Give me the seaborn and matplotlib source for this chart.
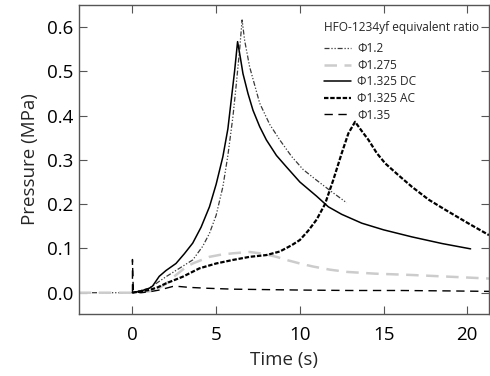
import matplotlib
matplotlib.use("Agg")
import matplotlib.pyplot as plt
import seaborn as sns
import pandas as pd

# Data (time in s, pressure in MPa)
phi12_t = [-3.2, 0, 1.0, 2.0, 2.8, 3.6, 4.2, 4.6, 5.0, 5.4, 5.7, 6.0, 6.2, 6.4, 6.55,
           6.7, 7.0, 7.6, 8.2, 8.8, 9.5, 10.2, 11.0, 11.9, 12.8]
phi12_p = [0, 0, 0.01, 0.036, 0.055, 0.074, 0.105, 0.134, 0.175, 0.239, 0.31, 0.397, 0.47, 0.548, 0.616,
           0.57, 0.51, 0.428, 0.38, 0.345, 0.308, 0.278, 0.254, 0.228, 0.203]

phi1275_t = [-3.2, 0, 1.0, 1.5, 2.0, 2.6, 3.2, 3.6, 4.2, 4.6, 5.3, 6.0, 7.0, 7.8, 8.6, 9.3,
             10.0, 10.8, 11.8, 12.8, 14.5, 16.7, 19.0, 21.3]
phi1275_p = [0, 0, 0.003, 0.008, 0.02, 0.04, 0.058, 0.066, 0.075, 0.081, 0.086, 0.089, 0.092, 0.088, 0.081, 0.073,
             0.066, 0.059, 0.052, 0.047, 0.043, 0.04, 0.036, 0.032]

dc_t = [0, 0.6, 1.0, 1.2, 1.6, 2.0, 2.6, 3.1, 3.6, 4.1, 4.6, 5.0, 5.4, 5.7, 5.9, 6.1, 6.28,
        6.45, 6.6, 6.9, 7.2, 7.6, 8.0, 8.6, 9.2, 10.0, 11.0, 11.7, 12.5, 13.7, 15.0, 16.7, 18.5, 20.2]
dc_p = [0, 0.005, 0.01, 0.015, 0.037, 0.05, 0.066, 0.088, 0.112, 0.148, 0.194, 0.245, 0.307, 0.37, 0.435, 0.5, 0.567,
        0.53, 0.495, 0.45, 0.412, 0.375, 0.345, 0.31, 0.284, 0.25, 0.218, 0.194, 0.177, 0.157, 0.142, 0.126, 0.111, 0.099]

ac_t = [0, 0.5, 1.0, 1.5, 2.0, 3.0, 4.0, 5.0, 6.0, 7.0, 8.0, 8.8, 9.5, 10.0, 10.5, 11.0, 11.5, 12.0,
        12.5, 12.9, 13.3, 13.7, 14.1, 14.6, 15.1, 15.9, 16.7, 17.7, 18.7, 20.0, 21.3]
ac_p = [0, 0.003, 0.006, 0.012, 0.021, 0.036, 0.055, 0.066, 0.074, 0.081, 0.085, 0.093, 0.107, 0.119, 0.14, 0.165, 0.2, 0.255,
        0.315, 0.36, 0.386, 0.365, 0.345, 0.315, 0.292, 0.265, 0.239, 0.21, 0.187, 0.158, 0.13]

phi135_t = [0, 0, 0.05, 0.5, 1.0, 1.6, 2.0, 2.4, 2.8, 3.4, 4.5, 6.0, 8.0, 10.0, 13.0, 16.0, 19.0, 21.3]
phi135_p = [0, 0.075, 0.003, 0.0, 0.002, 0.006, 0.01, 0.014, 0.014, 0.012, 0.01, 0.008, 0.007, 0.006, 0.005, 0.005, 0.004, 0.003]

labels = ["Φ1.2", "Φ1.275", "Φ1.325 DC", "Φ1.325 AC", "Φ1.35"]
series = [(phi12_t, phi12_p), (phi1275_t, phi1275_p), (dc_t, dc_p), (ac_t, ac_p), (phi135_t, phi135_p)]
colors = ["#3a3a3a", "#cccccc", "black", "black", "black"]
styles = [(0, (4, 1.5, 1, 1.5, 1, 1.5)), (0, (5, 3)), "-", (0, (2, 0.8)), (0, (6, 4))]
widths = [0.9, 1.8, 1.1, 1.6, 1.0]

sns.set_style("ticks")
plt.rcParams['font.family'] = ['Open Sans', 'DejaVu Sans']

fig = plt.figure(figsize=(4.9, 3.76), dpi=100)
ax = fig.add_axes([0.161, 0.165, 0.837, 0.822])

for (t, p), lab, c, ls, lw in zip(series, labels, colors, styles, widths):
    df = pd.DataFrame({"t": t, "p": p})
    sns.lineplot(data=df, x="t", y="p", ax=ax, color=c, linestyle=ls, linewidth=lw,
                 estimator=None, sort=False, label=lab)

ax.set_xlim(-3.2, 21.3)
ax.set_ylim(-0.048, 0.65)
ax.set_xticks([0, 5, 10, 15, 20])
ax.set_yticks([0.0, 0.1, 0.2, 0.3, 0.4, 0.5, 0.6])
ax.set_yticklabels(["0.0", "0.1", "0.2", "0.3", "0.4", "0.5", "0.6"])
ax.set_xlabel("Time (s)", fontsize=13.5, labelpad=5)
ax.set_ylabel("Pressure (MPa)", fontsize=13.5, labelpad=6)
ax.tick_params(direction="in", top=True, right=True, length=6, width=0.8,
               colors="#555555", labelcolor="black", labelsize=13.5)
ax.tick_params(axis="x", pad=9)
ax.tick_params(axis="y", pad=4)
for s in ax.spines.values():
    s.set_color("#555555")
    s.set_linewidth(1.0)

leg = ax.legend(title="HFO-1234yf equivalent ratio", frameon=False, loc="upper left",
                bbox_to_anchor=(0.577, 0.975), fontsize=8.6, title_fontsize=8.6,
                handlelength=2.3, handletextpad=0.5, labelspacing=0.3,
                alignment="left", borderpad=0.2)
leg._legend_box.sep = 6

fig.savefig("out.png", dpi=100)
